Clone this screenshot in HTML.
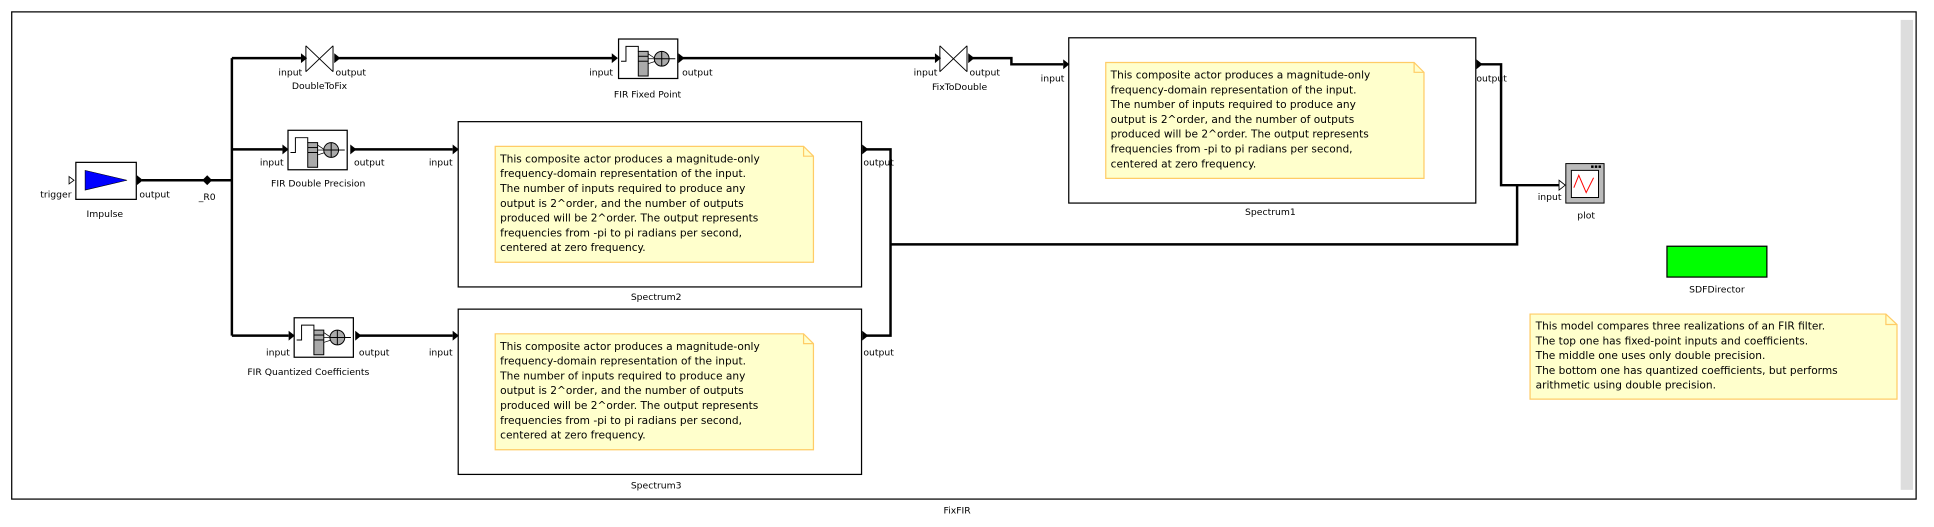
<!DOCTYPE html>
<html><head><meta charset="utf-8"><style>html,body{margin:0;padding:0;background:#fff}svg{display:block}</style></head>
<body>
<svg width="1934" height="527" viewBox="0 0 1568 427" xmlns="http://www.w3.org/2000/svg" font-family="'DejaVu Sans','Liberation Sans',sans-serif" font-size="7.5">
<defs>
<g id="note">
<path d="M0,0 H250 L258,8 V94 H0 Z" fill="#ffffcc" stroke="#ffcc66" stroke-width="1"/>
<path d="M250,0 V8 H258" fill="none" stroke="#ffcc66"/>
<g font-size="8.6">
<text x="4" y="13">This composite actor produces a magnitude-only</text>
<text x="4" y="25">frequency-domain representation of the input.</text>
<text x="4" y="37">The number of inputs required to produce any</text>
<text x="4" y="49">output is 2^order, and the number of outputs</text>
<text x="4" y="61">produced will be 2^order.  The output represents</text>
<text x="4" y="73">frequencies from -pi to pi radians per second,</text>
<text x="4" y="85">centered at zero frequency.</text>
</g>
</g>
<g id="fir">
<rect x="0" y="0" width="48" height="32" fill="#fff" stroke="#000"/>
<path d="M2,18 H6 V6 H16 V10" fill="none" stroke="#000" stroke-width="0.8"/>
<rect x="16" y="10" width="8" height="20" fill="#aaa" stroke="#000" stroke-width="0.8"/>
<line x1="16" y1="14" x2="24" y2="14" stroke="#000" stroke-width="0.8"/>
<line x1="16" y1="18" x2="24" y2="18" stroke="#000" stroke-width="0.8"/>
<line x1="24" y1="12" x2="30" y2="16" stroke="#000" stroke-width="0.6"/>
<line x1="24" y1="16" x2="30" y2="16" stroke="#000" stroke-width="0.6"/>
<line x1="24" y1="20" x2="30" y2="18" stroke="#000" stroke-width="0.6"/>
<circle cx="35" cy="16" r="6" fill="#aaa" stroke="#000" stroke-width="0.8"/>
<path d="M29,16 H41 M35,10 V22" stroke="#000" stroke-width="0.8"/>
<path d="M41,16 H46" stroke="#000" stroke-width="0.8"/>
</g>
<path id="arr" d="M-5,-4 L0,0 L-5,4 Z" fill="#000"/>
</defs>

<rect x="9.5" y="9.5" width="1544" height="395" fill="#fff" stroke="#000" stroke-width="1"/>
<rect x="1541" y="16" width="10" height="381" fill="#dddddd"/>
<text x="776" y="416" text-anchor="middle">FixFIR</text>

<g stroke="#000" stroke-width="2" fill="none">
<path d="M115,146 H188"/>
<path d="M188,47 V272"/>
<path d="M188,47 H244"/>
<path d="M275,47 H497"/>
<path d="M553,47 H758"/>
<path d="M788,47 H820 V52 H862"/>
<path d="M188,121 H229"/>
<path d="M287,121 H367"/>
<path d="M188,272 H234"/>
<path d="M291,272 H367"/>
<path d="M702,121 H722 V272 H702"/>
<path d="M722,198 H1230 V150"/>
<path d="M1200,52 H1217 V150 H1265"/>
</g>
<path d="M168,142 L172,146 L168,150 L164,146 Z" fill="#000"/>
<text x="168" y="162" text-anchor="middle">_R0</text>

<rect x="61.5" y="131.5" width="49" height="30" fill="#fff" stroke="#000"/>
<path d="M69,138 L103,146 L69,154 Z" fill="#0000ff" stroke="#000" stroke-width="0.5"/>
<path d="M56,143 L60,146 L56,149 Z" fill="#fff" stroke="#000" stroke-width="0.7"/>
<use href="#arr" x="116" y="146"/>
<text x="58" y="160" text-anchor="end">trigger</text>
<text x="113" y="160">output</text>
<text x="85" y="176" text-anchor="middle">Impulse</text>

<path d="M248,37 L270,58 M270,37 L248,58 M248,37 V58 M270,37 V58" stroke="#000" stroke-width="0.8" fill="none"/>
<use href="#arr" x="249" y="47"/><use href="#arr" x="276" y="47"/>
<text x="245" y="61" text-anchor="end">input</text>
<text x="272" y="61">output</text>
<text x="259" y="72" text-anchor="middle">DoubleToFix</text>

<use href="#fir" x="501.5" y="31.5"/>
<use href="#arr" x="501" y="47"/><use href="#arr" x="555" y="47"/>
<text x="497" y="61" text-anchor="end">input</text>
<text x="553" y="61">output</text>
<text x="525" y="79" text-anchor="middle">FIR Fixed Point</text>

<path d="M762,37 L784,58 M784,37 L762,58 M762,37 V58 M784,37 V58" stroke="#000" stroke-width="0.8" fill="none"/>
<use href="#arr" x="763" y="47"/><use href="#arr" x="790" y="47"/>
<text x="760" y="61" text-anchor="end">input</text>
<text x="786" y="61">output</text>
<text x="778" y="73" text-anchor="middle">FixToDouble</text>

<rect x="866.5" y="30.5" width="330" height="134" fill="#fff" stroke="#000"/>
<use href="#note" x="896.5" y="50.5"/>
<use href="#arr" x="867" y="52"/><use href="#arr" x="1202" y="52"/>
<text x="863" y="66" text-anchor="end">input</text>
<text x="1197" y="66">output</text>
<text x="1030" y="174" text-anchor="middle">Spectrum1</text>

<use href="#fir" x="233.5" y="105.5"/>
<use href="#arr" x="234" y="121"/><use href="#arr" x="289" y="121"/>
<text x="230" y="134" text-anchor="end">input</text>
<text x="287" y="134">output</text>
<text x="258" y="151" text-anchor="middle">FIR Double Precision</text>

<rect x="371.5" y="98.5" width="327" height="134" fill="#fff" stroke="#000"/>
<use href="#note" x="401.5" y="118.5"/>
<use href="#arr" x="372" y="121"/><use href="#arr" x="704" y="121"/>
<text x="367" y="134" text-anchor="end">input</text>
<text x="700" y="134">output</text>
<text x="532" y="243" text-anchor="middle">Spectrum2</text>

<use href="#fir" x="238.5" y="257.5"/>
<use href="#arr" x="239" y="272"/><use href="#arr" x="293" y="272"/>
<text x="235" y="288" text-anchor="end">input</text>
<text x="291" y="288">output</text>
<text x="250" y="304" text-anchor="middle">FIR Quantized Coefficients</text>

<rect x="371.5" y="250.5" width="327" height="134" fill="#fff" stroke="#000"/>
<use href="#note" x="401.5" y="270.5"/>
<use href="#arr" x="372" y="272"/><use href="#arr" x="704" y="272"/>
<text x="367" y="288" text-anchor="end">input</text>
<text x="700" y="288">output</text>
<text x="532" y="396" text-anchor="middle">Spectrum3</text>

<rect x="1269.5" y="132.5" width="31" height="32" fill="#bbb" stroke="#000" stroke-width="0.8"/>
<rect x="1290" y="134" width="2" height="2" fill="#000"/><rect x="1293" y="134" width="2" height="2" fill="#000"/><rect x="1296" y="134" width="2" height="2" fill="#000"/>
<rect x="1274" y="138" width="22" height="22" fill="#fff" stroke="#000" stroke-width="0.8"/>
<path d="M1276,152 L1280,142 L1286,156 L1292,144" fill="none" stroke="#ff0000" stroke-width="0.8"/>
<path d="M1264,146 L1269,150 L1264,154 Z" fill="#fff" stroke="#000" stroke-width="0.7"/>
<text x="1266" y="162" text-anchor="end">input</text>
<text x="1286" y="177" text-anchor="middle">plot</text>

<rect x="1351.5" y="199.5" width="81" height="25" fill="#00ff00" stroke="#000"/>
<text x="1392" y="237" text-anchor="middle">SDFDirector</text>

<path d="M1240.5,254.5 H1529 L1538,263 V323.5 H1240.5 Z" fill="#ffffcc" stroke="#ffcc66"/>
<path d="M1529,254.5 V263 H1538" fill="none" stroke="#ffcc66"/>
<g font-size="8.6">
<text x="1245" y="267">This model compares three realizations of an FIR filter.</text>
<text x="1245" y="279">The top one has fixed-point inputs and coefficients.</text>
<text x="1245" y="291">The middle one uses only double precision.</text>
<text x="1245" y="303">The bottom one has quantized coefficients, but performs</text>
<text x="1245" y="315">arithmetic using double precision.</text>
</g>
</svg>
</body></html>
